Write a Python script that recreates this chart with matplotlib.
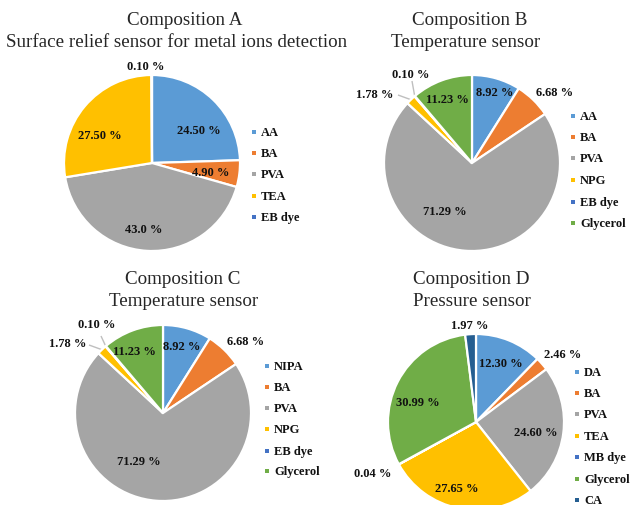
import matplotlib
matplotlib.use("Agg")
import matplotlib.pyplot as plt
import numpy as np

# ---- data -----------------------------------------------------------------
titles = [
    ("Composition A", "Surface relief sensor for metal ions detection"),
    ("Composition B", "Temperature sensor"),
    ("Composition C", "Temperature sensor"),
    ("Composition D", "Pressure sensor"),
]

labels_a = ["AA", "BA", "PVA", "TEA", "EB dye"]
values_a = [24.50, 4.90, 43.0, 27.50, 0.10]

labels_b = ["AA", "BA", "PVA", "NPG", "EB dye", "Glycerol"]
values_b = [8.92, 6.68, 71.29, 1.78, 0.10, 11.23]

labels_c = ["NIPA", "BA", "PVA", "NPG", "EB dye", "Glycerol"]
values_c = [8.92, 6.68, 71.29, 1.78, 0.10, 11.23]

labels_d = ["DA", "BA", "PVA", "TEA", "MB dye", "Glycerol", "CA"]
values_d = [12.30, 2.46, 24.60, 27.65, 0.04, 30.99, 1.97]

# ---- styling --------------------------------------------------------------
BLUE, ORANGE, GRAY, GOLD = "#5B9BD5", "#ED7D31", "#A5A5A5", "#FFC000"
DBLUE, GREEN, NAVY = "#4472C4", "#70AD47", "#255E91"

colors_a = [BLUE, ORANGE, GRAY, GOLD, DBLUE]
colors_b = [BLUE, ORANGE, GRAY, GOLD, DBLUE, GREEN]
colors_d = [BLUE, ORANGE, GRAY, GOLD, DBLUE, GREEN, NAVY]

W, H = 638, 506
SERIF = "Liberation Serif"

fig = plt.figure(figsize=(W / 100, H / 100), dpi=100)
ax = fig.add_axes([0, 0, 1, 1])


def Y(y):
    """Convert a top-down pixel row into the axes' bottom-up coordinate."""
    return H - y


def fmt(v):
    return "43.0 %" if v == 43.0 else f"{v:.2f} %"


def draw_pie(values, colors, legend, center, radius, label_pos,
             title, title_xy, legend_x, legend_ys, leaders=()):
    cx, cy = center
    ax.pie(values, colors=colors, startangle=90, counterclock=False,
           center=(cx, Y(cy)), radius=radius,
           wedgeprops=dict(edgecolor="white", linewidth=1.6))

    # wedge mid-angles (degrees, counter-clockwise from +x)
    cum = np.cumsum([0] + list(values)) / sum(values)
    mids = 90 - 360 * (cum[:-1] + cum[1:]) / 2

    for v, (ang, rf) in zip(values, label_pos):
        a = np.deg2rad(ang)
        ax.text(cx + rf * radius * np.cos(a), Y(cy) + rf * radius * np.sin(a),
                fmt(v), ha="center", va="center", fontsize=9,
                fontweight="bold", family=SERIF, color="#111111")

    # leader lines from small-slice labels to the slice edge
    for idx, (sx, sy) in leaders:
        m = np.deg2rad(mids[idx])
        ex = cx + radius * np.cos(m)
        ey = Y(cy) + radius * np.sin(m)
        ax.plot([sx, ex], [Y(sy), ey], color="#BFBFBF", lw=1.0,
                solid_capstyle="butt", zorder=0.5)

    (t1, t2), (tx1, ty1, tx2, ty2) = title, title_xy
    ax.text(tx1, Y(ty1), t1, ha="center", va="center", fontsize=13.7,
            family=SERIF, color="#262626")
    ax.text(tx2, Y(ty2), t2, ha="center", va="center", fontsize=13.7,
            family=SERIF, color="#262626")

    for name, col, ly in zip(legend, colors, legend_ys):
        ax.scatter([legend_x], [Y(ly)], marker="s", s=11, color=col,
                   linewidths=0)
        ax.text(legend_x + 7, Y(ly), name, ha="left", va="center",
                fontsize=9, fontweight="bold", family=SERIF,
                color="#111111")


# Composition A
draw_pie(values_a, colors_a, labels_a, (152, 164), 88,
         [(35, 0.65), (-8.7, 0.68), (-97, 0.76), (152, 0.67), (93.5, 1.1)],
         titles[0], (185, 20, 177, 42),
         254, [133, 154, 175, 197, 218])

# Composition B
draw_pie(values_b, colors_b, labels_b, (472, 164), 88,
         [(72, 0.85), (40.5, 1.24), (-119, 0.63), (144.6, 1.35),
          (124.4, 1.23), (110.6, 0.78)],
         titles[1], (470, 20, 466, 42),
         573, [117, 138, 159, 181, 203, 224],
         leaders=[(3, (398, 96)), (4, (412, 82))])

# Composition C
draw_pie(values_c, colors_b, labels_c, (163, 414), 88,
         [(74, 0.79), (41, 1.25), (-116.6, 0.61), (143.6, 1.34),
          (126.6, 1.26), (115, 0.78)],
         titles[2], (183, 280, 184, 302),
         267, [367, 388, 409, 430, 452, 472],
         leaders=[(3, (89, 346)), (4, (101, 337))])

# Composition D
draw_pie(values_d, colors_d, labels_d, (476, 423), 88,
         [(67, 0.73), (38, 1.25), (-9.5, 0.69), (-106, 0.78),
          (-153.7, 1.31), (161, 0.7), (94, 1.1)],
         titles[3], (471, 279, 472, 302),
         577, [373, 394, 415, 437, 458, 480, 501])

ax.set_xlim(0, W)
ax.set_ylim(0, H)
ax.set_aspect("equal")
ax.axis("off")

fig.savefig("out.png", dpi=100, facecolor="white")
